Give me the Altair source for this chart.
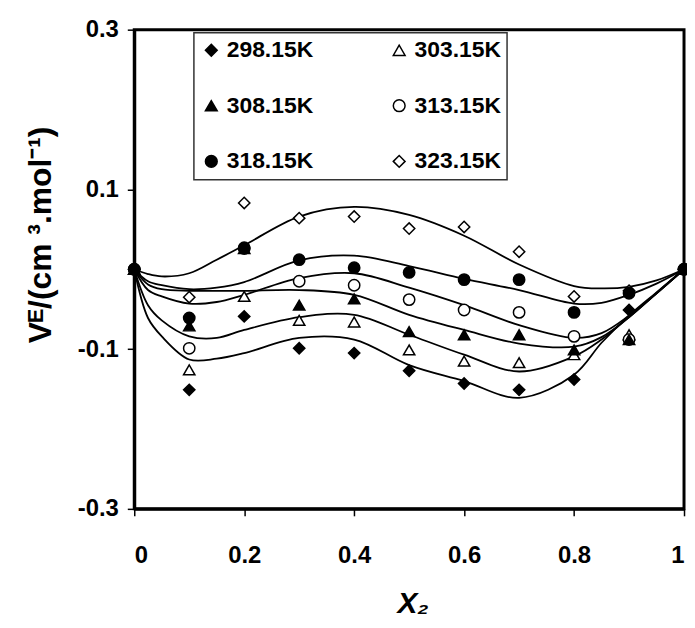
import altair as alt
import pandas as pd

# Series (temperatures) and their marker styles
temps = ["298.15K", "303.15K", "308.15K", "313.15K", "318.15K", "323.15K"]
shapes = ["diamond", "triangle-up", "triangle-up", "circle", "circle", "diamond"]
fills = ["black", "white", "black", "white", "black", "white"]

# Experimental points (x2 from 0 to 1 step 0.1)
x_pts = [0.0, 0.1, 0.2, 0.3, 0.4, 0.5, 0.6, 0.7, 0.8, 0.9, 1.0]
v_298 = [0, -0.151, -0.059, -0.099, -0.105, -0.127, -0.143, -0.151, -0.138, -0.051, 0]
v_303 = [0, -0.126, -0.034, -0.064, -0.066, -0.101, -0.115, -0.117, -0.107, -0.082, 0]
v_308 = [0, -0.071, 0.026, -0.045, -0.037, -0.078, -0.082, -0.082, -0.101, -0.088, 0]
v_313 = [0, -0.099, 0.026, -0.015, -0.020, -0.038, -0.051, -0.054, -0.084, -0.088, 0]
v_318 = [0, -0.061, 0.027, 0.012, 0.002, -0.004, -0.013, -0.013, -0.054, -0.030, 0]
v_323 = [0, -0.035, 0.083, 0.064, 0.066, 0.051, 0.053, 0.022, -0.034, -0.027, 0]

# Fitted curves, values
x_fit = [0.0, 0.025, 0.05, 0.1, 0.15, 0.2, 0.3, 0.4, 0.5, 0.6, 0.7, 0.8, 0.85, 0.9, 0.95, 1.0]
f_323 = [0, -0.006, -0.009, -0.005, 0.012, 0.030, 0.066, 0.078, 0.068, 0.042, 0.006, -0.021, -0.024, -0.022, -0.014, 0]
f_318 = [0, -0.015, -0.020, -0.025, -0.023, -0.016, 0.011, 0.017, 0.004, -0.012, -0.026, -0.043, -0.042, -0.032, -0.018, 0]
f_313 = [0, -0.026, -0.034, -0.043, -0.041, -0.032, -0.011, -0.005, -0.023, -0.045, -0.070, -0.086, -0.080, -0.058, -0.030, 0]
f_308 = [0, -0.019, -0.025, -0.027, -0.027, -0.027, -0.026, -0.032, -0.057, -0.076, -0.093, -0.097, -0.085, -0.060, -0.030, 0]
f_303 = [0, -0.045, -0.064, -0.084, -0.086, -0.076, -0.060, -0.057, -0.082, -0.107, -0.128, -0.109, -0.088, -0.060, -0.030, 0]
f_298 = [0, -0.061, -0.084, -0.113, -0.112, -0.105, -0.086, -0.088, -0.120, -0.140, -0.161, -0.132, -0.092, -0.058, -0.029, 0]

pts = {"298.15K": v_298, "303.15K": v_303, "308.15K": v_308,
       "313.15K": v_313, "318.15K": v_318, "323.15K": v_323}
fits = {"298.15K": f_298, "303.15K": f_303, "308.15K": f_308,
        "313.15K": f_313, "318.15K": f_318, "323.15K": f_323}

# legend is filled column by column: order so rows read 298/303, 308/313, 318/323
legend_order = [0, 2, 4, 1, 3, 5]
dom = [temps[i] for i in legend_order]
shp = [shapes[i] for i in legend_order]
fil = [fills[i] for i in legend_order]

# open markers drawn first, filled markers on top
draw_order = ["303.15K", "313.15K", "323.15K", "298.15K", "308.15K", "318.15K"]
rows = []
for t in draw_order:
    for x, v in zip(x_pts, pts[t]):
        rows.append({"x": x, "v": v, "temp": t})
df_pts = pd.DataFrame(rows)

rows = []
for t in temps:
    for x, v in zip(x_fit, fits[t]):
        rows.append({"x": x, "v": v, "temp": t})
df_fit = pd.DataFrame(rows)

FONT = "Liberation Sans"

xenc = alt.X("x:Q", scale=alt.Scale(domain=[0, 1], nice=False),
             axis=alt.Axis(values=[0, 0.2, 0.4, 0.6, 0.8, 1.0], format="~g",
                           title="X₂", titleFontStyle="italic", titleFontSize=30,
                           titleX=280, titleY=104, titleBaseline="alphabetic",
                           labelPadding=28))
yenc = alt.Y("v:Q", scale=alt.Scale(domain=[-0.3, 0.3], nice=False),
             axis=alt.Axis(values=[-0.3, -0.1, 0.1, 0.3], format=".1f",
                           labelExpr="replace(datum.label, '\u2212', '-')",
                           title="Vᴱ/(cm ³.mol⁻¹)", titleFontSize=32,
                           titleX=-94, titleY=206, titleAngle=-90,
                           titleAlign="center", titleBaseline="middle",
                           labelPadding=9))

leg = alt.Legend(title=None, orient="none", legendX=60, legendY=3, columns=2,
                 columnPadding=75, rowPadding=32, padding=6,
                 strokeColor="#333333", labelFont=FONT, labelFontSize=23,
                 labelFontWeight="bold", labelColor="black", symbolSize=140,
                 symbolStrokeWidth=1.5, labelOffset=4, fillColor="white")

lines = alt.Chart(df_fit).mark_line(color="black", strokeWidth=1.8, interpolate="catmull-rom").encode(
    x=xenc, y=yenc, detail="temp:N")

points = alt.Chart(df_pts).mark_point(filled=True, size=130, strokeWidth=1.5,
                                      opacity=1, fillOpacity=1).encode(
    x=xenc, y=yenc,
    shape=alt.Shape("temp:N", scale=alt.Scale(domain=dom, range=shp), legend=leg),
    fill=alt.Fill("temp:N", scale=alt.Scale(domain=dom, range=fil), legend=leg),
    stroke=alt.Stroke("temp:N", scale=alt.Scale(domain=dom, range=["black"] * 6), legend=leg),
)

chart = alt.layer(lines, points).properties(
    width=553, height=482,
    autosize=alt.AutoSizeParams(type="none"),
    padding={"left": 127, "top": 20, "right": 3, "bottom": 110},
).configure_view(stroke="black", strokeWidth=3).configure_axis(
    labelFont=FONT, labelFontSize=24, labelFontWeight="bold", labelColor="black",
    titleFont=FONT, titleFontWeight="bold", titleColor="black",
    tickColor="black", tickSize=7, tickWidth=1.5, domainColor="black", domainWidth=3,
    grid=False,
).configure_legend(strokeWidth=1.5)

chart.save("out.html", embed_options={"renderer": "svg", "actions": False})
